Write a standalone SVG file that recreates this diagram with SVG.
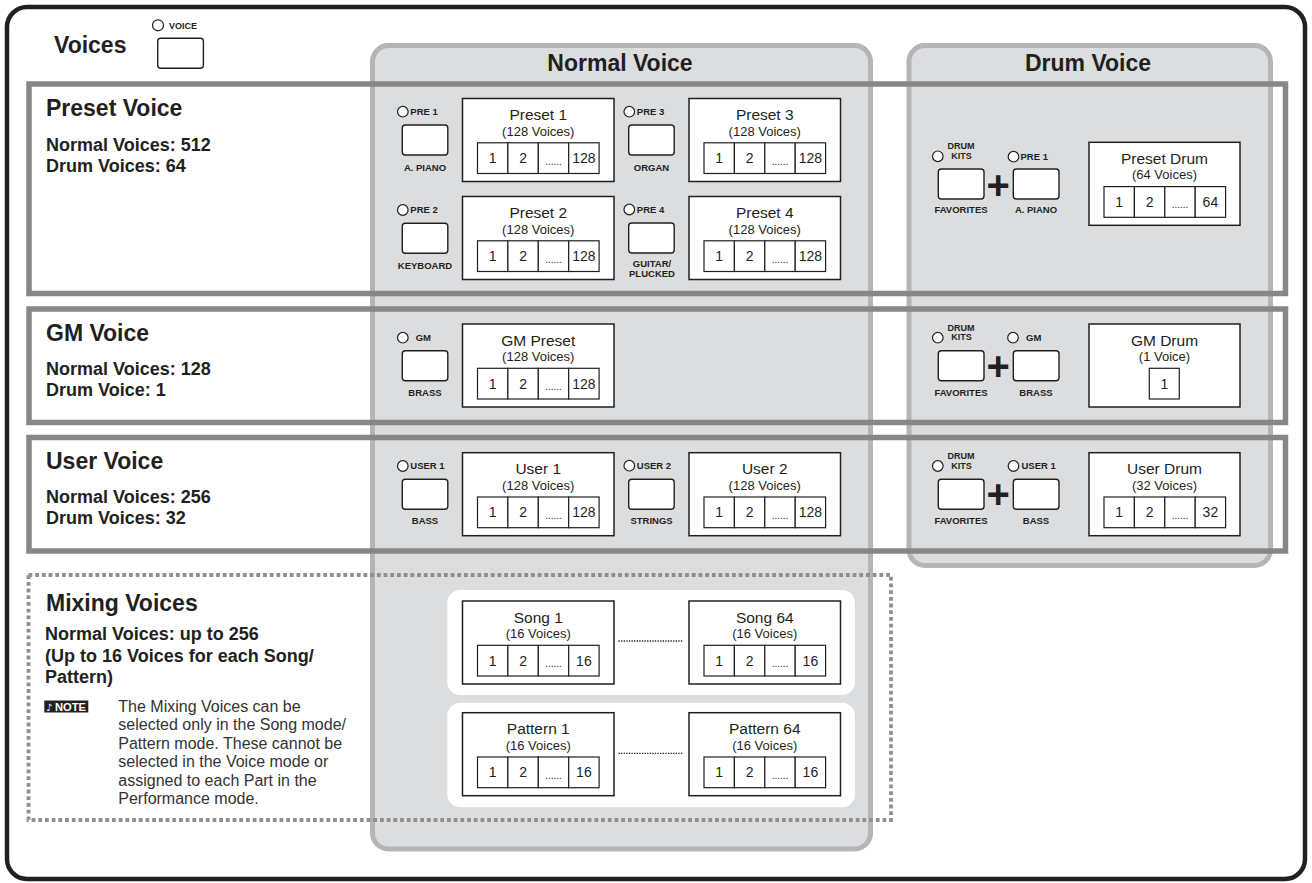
<svg xmlns="http://www.w3.org/2000/svg" width="1312" height="883" viewBox="0 0 1312 883">
<defs>
<style>
text{font-family:"Liberation Sans",Arial,sans-serif;fill:#231f20}
.h{font-size:23px;font-weight:bold}
.s{font-size:18px;font-weight:bold}
.bl{font-size:9.5px;font-weight:bold}
.blc{font-size:9.5px;font-weight:bold;text-anchor:middle}
.bt{font-size:15.5px;text-anchor:middle}
.bs{font-size:13px;text-anchor:middle}
.cn{font-size:14px;text-anchor:middle}
.dt{font-size:10px;text-anchor:middle}
.nt{font-size:16px;fill:#333}
.plus{font-size:40px;font-weight:bold;text-anchor:middle}
.vb{fill:#fff;stroke:#231f20;stroke-width:1.5}
.cl{fill:#fff;stroke:#231f20;stroke-width:1.2}
.btn{fill:#fff;stroke:#231f20;stroke-width:1.4}
.led{fill:#fff;stroke:#231f20;stroke-width:1.2}
.row{fill:none;stroke:#878787;stroke-width:5.5}
.panel{fill:#dcdddf;stroke:#b4b5b7;stroke-width:5}
</style>
</defs>
<rect x="0" y="0" width="1312" height="883" fill="#fff"/>
<rect x="7" y="7" width="1298" height="872" rx="20" fill="#fff" stroke="#231f20" stroke-width="4.5"/>

<g id="panels">
<rect id="normal-panel" class="panel" x="372.5" y="45.5" width="498" height="803.5" rx="16"/>
<rect id="drum-panel" class="panel" x="909" y="45.5" width="361.5" height="520" rx="16"/>
<rect x="447.3" y="590" width="407.7" height="105" rx="13" fill="#fff"/>
<rect x="447.3" y="702.7" width="407.7" height="104.6" rx="13" fill="#fff"/>
</g>

<g id="rows">
<rect id="preset-row" class="row" x="29" y="84" width="1256.5" height="209.5"/>
<rect id="gm-row" class="row" x="29" y="309" width="1256.5" height="113.5"/>
<rect id="user-row" class="row" x="29" y="437.5" width="1256.5" height="113.5"/>
<rect id="mixing-row" x="28.5" y="575" width="862.5" height="245" fill="none" stroke="#8f8f8f" stroke-width="3.8" stroke-dasharray="3.8 2.9"/>
</g>

<g id="headings">
<text class="h" x="54" y="53">Voices</text>
<text class="h" x="620" y="70.7" text-anchor="middle">Normal Voice</text>
<text class="h" x="1088" y="70.7" text-anchor="middle">Drum Voice</text>
<text class="h" x="46" y="116">Preset Voice</text>
<text class="s" x="46" y="151">Normal Voices: 512</text>
<text class="s" x="46" y="172">Drum Voices: 64</text>
<text class="h" x="46" y="340.5">GM Voice</text>
<text class="s" x="46" y="375">Normal Voices: 128</text>
<text class="s" x="46" y="396">Drum Voice: 1</text>
<text class="h" x="46" y="469">User Voice</text>
<text class="s" x="46" y="503">Normal Voices: 256</text>
<text class="s" x="46" y="524">Drum Voices: 32</text>
<text class="h" x="46" y="610.7">Mixing Voices</text>
<text class="s" x="45" y="640">Normal Voices: up to 256</text>
<text class="s" x="45" y="661.5">(Up to 16 Voices for each Song/</text>
<text class="s" x="45" y="682.7">Pattern)</text>
</g>

<g id="note">
<rect x="44.3" y="700.5" width="44" height="12" fill="#231f20"/>
<text x="46" y="710.5" style="font-family:'DejaVu Sans',sans-serif;font-size:10px;fill:#fff">♪</text>
<text x="55" y="711" textLength="31" lengthAdjust="spacingAndGlyphs" style="font-size:11.5px;font-weight:bold;fill:#fff">NOTE</text>
<text class="nt" x="118.3" y="711.7">The Mixing Voices can be</text>
<text class="nt" x="118.3" y="730.1">selected only in the Song mode/</text>
<text class="nt" x="118.3" y="748.6">Pattern mode. These cannot be</text>
<text class="nt" x="118.3" y="767">selected in the Voice mode or</text>
<text class="nt" x="118.3" y="785.5">assigned to each Part in the</text>
<text class="nt" x="118.3" y="804">Performance mode.</text>
</g>

<!-- buttons -->
<g id="btn-voice">
<circle class="led" cx="158" cy="25.3" r="5.5"/>
<text x="169" y="29" style="font-size:9px;font-weight:bold">VOICE</text>
<rect class="btn" x="157.7" y="38.3" width="45.7" height="30" rx="3"/>
</g>
<g id="btn-pre1">
<circle class="led" cx="402.8" cy="111.7" r="5.3"/>
<text class="bl" x="410.3" y="115">PRE 1</text>
<rect class="btn" x="402.3" y="125" width="45.5" height="30" rx="3"/>
<text class="blc" x="425" y="170.7">A. PIANO</text>
</g>
<g id="btn-pre3">
<circle class="led" cx="629.3" cy="111.7" r="5.3"/>
<text class="bl" x="636.8" y="115">PRE 3</text>
<rect class="btn" x="628.7" y="125" width="45.5" height="30" rx="3"/>
<text class="blc" x="651.5" y="170.7">ORGAN</text>
</g>
<g id="btn-pre2">
<circle class="led" cx="402.8" cy="210" r="5.3"/>
<text class="bl" x="410.3" y="213.3">PRE 2</text>
<rect class="btn" x="402.3" y="223.3" width="45.5" height="30" rx="3"/>
<text class="blc" x="425" y="268.5">KEYBOARD</text>
</g>
<g id="btn-pre4">
<circle class="led" cx="629.3" cy="209.5" r="5.3"/>
<text class="bl" x="636.8" y="212.8">PRE 4</text>
<rect class="btn" x="628.7" y="223" width="45.5" height="30" rx="3"/>
<text class="blc" x="652" y="267.3">GUITAR/</text>
<text class="blc" x="652" y="276.7">PLUCKED</text>
</g>
<g id="btn-gm">
<circle class="led" cx="402.8" cy="337.7" r="5.3"/>
<text class="bl" x="415.7" y="340.7">GM</text>
<rect class="btn" x="402.3" y="350.7" width="45.5" height="30" rx="3"/>
<text class="blc" x="425" y="395.7">BRASS</text>
</g>
<g id="btn-user1">
<circle class="led" cx="402.8" cy="466" r="5.3"/>
<text class="bl" x="410.3" y="469.3">USER 1</text>
<rect class="btn" x="402.3" y="479.3" width="45.5" height="30" rx="3"/>
<text class="blc" x="425" y="524">BASS</text>
</g>
<g id="btn-user2">
<circle class="led" cx="629.3" cy="465.7" r="5.3"/>
<text class="bl" x="636.8" y="469">USER 2</text>
<rect class="btn" x="628.7" y="479.3" width="45.5" height="30" rx="3"/>
<text class="blc" x="651.5" y="524">STRINGS</text>
</g>

<!-- drum buttons -->
<g id="drum-btn-preset">
<circle class="led" cx="937.8" cy="156.3" r="5.3"/>
<text class="blc" x="961" y="149.3" style="font-size:9px">DRUM</text>
<text class="blc" x="961.5" y="158.8" style="font-size:9px">KITS</text>
<rect class="btn" x="938.3" y="169" width="45.7" height="30" rx="3"/>
<text class="blc" x="961" y="213.3">FAVORITES</text>
<text class="plus" x="998.3" y="198.8">+</text>
<circle class="led" cx="1013.5" cy="156.7" r="5.3"/>
<text class="bl" x="1020.5" y="160">PRE 1</text>
<rect class="btn" x="1013.3" y="169" width="45.7" height="30" rx="3"/>
<text class="blc" x="1036" y="213.3">A. PIANO</text>
</g>
<g id="drum-btn-gm">
<circle class="led" cx="937.8" cy="337.7" r="5.3"/>
<text class="blc" x="961" y="330.7" style="font-size:9px">DRUM</text>
<text class="blc" x="961.5" y="340.2" style="font-size:9px">KITS</text>
<rect class="btn" x="938.3" y="350.7" width="45.7" height="30" rx="3"/>
<text class="blc" x="961" y="395.7">FAVORITES</text>
<text class="plus" x="998.3" y="379.5">+</text>
<circle class="led" cx="1013" cy="337.7" r="5.3"/>
<text class="bl" x="1026" y="340.7">GM</text>
<rect class="btn" x="1013.3" y="350.7" width="45.7" height="30" rx="3"/>
<text class="blc" x="1036" y="395.7">BRASS</text>
</g>
<g id="drum-btn-user">
<circle class="led" cx="937.8" cy="466" r="5.3"/>
<text class="blc" x="961" y="459.3" style="font-size:9px">DRUM</text>
<text class="blc" x="961.5" y="468.8" style="font-size:9px">KITS</text>
<rect class="btn" x="938.3" y="479.3" width="45.7" height="30" rx="3"/>
<text class="blc" x="961" y="524">FAVORITES</text>
<text class="plus" x="998.3" y="508.1">+</text>
<circle class="led" cx="1013.5" cy="466" r="5.3"/>
<text class="bl" x="1021.5" y="469.3">USER 1</text>
<rect class="btn" x="1013.3" y="479.3" width="45.7" height="30" rx="3"/>
<text class="blc" x="1036" y="524">BASS</text>
</g>

<!-- voice boxes -->
<g id="box-preset1" transform="translate(462.5,98.5)">
<rect class="vb" width="151.5" height="83"/>
<text class="bt" x="75.75" y="21.5">Preset 1</text><text class="bs" x="75.75" y="37">(128 Voices)</text>
<rect class="cl" x="15" y="44.3" width="30.4" height="30.7"/><rect class="cl" x="45.4" y="44.3" width="30.4" height="30.7"/><rect class="cl" x="75.8" y="44.3" width="30.4" height="30.7"/><rect class="cl" x="106.2" y="44.3" width="30.4" height="30.7"/>
<text class="cn" x="30.2" y="64.8">1</text><text class="cn" x="60.6" y="64.8">2</text><text class="dt" x="91" y="66">......</text><text class="cn" x="121.4" y="64.8">128</text>
</g>
<g id="box-preset3" transform="translate(689,98.5)">
<rect class="vb" width="151.5" height="83"/>
<text class="bt" x="75.75" y="21.5">Preset 3</text><text class="bs" x="75.75" y="37">(128 Voices)</text>
<rect class="cl" x="15" y="44.3" width="30.4" height="30.7"/><rect class="cl" x="45.4" y="44.3" width="30.4" height="30.7"/><rect class="cl" x="75.8" y="44.3" width="30.4" height="30.7"/><rect class="cl" x="106.2" y="44.3" width="30.4" height="30.7"/>
<text class="cn" x="30.2" y="64.8">1</text><text class="cn" x="60.6" y="64.8">2</text><text class="dt" x="91" y="66">......</text><text class="cn" x="121.4" y="64.8">128</text>
</g>
<g id="box-preset2" transform="translate(462.5,196.5)">
<rect class="vb" width="151.5" height="83"/>
<text class="bt" x="75.75" y="21.5">Preset 2</text><text class="bs" x="75.75" y="37">(128 Voices)</text>
<rect class="cl" x="15" y="44.3" width="30.4" height="30.7"/><rect class="cl" x="45.4" y="44.3" width="30.4" height="30.7"/><rect class="cl" x="75.8" y="44.3" width="30.4" height="30.7"/><rect class="cl" x="106.2" y="44.3" width="30.4" height="30.7"/>
<text class="cn" x="30.2" y="64.8">1</text><text class="cn" x="60.6" y="64.8">2</text><text class="dt" x="91" y="66">......</text><text class="cn" x="121.4" y="64.8">128</text>
</g>
<g id="box-preset4" transform="translate(689,196.5)">
<rect class="vb" width="151.5" height="83"/>
<text class="bt" x="75.75" y="21.5">Preset 4</text><text class="bs" x="75.75" y="37">(128 Voices)</text>
<rect class="cl" x="15" y="44.3" width="30.4" height="30.7"/><rect class="cl" x="45.4" y="44.3" width="30.4" height="30.7"/><rect class="cl" x="75.8" y="44.3" width="30.4" height="30.7"/><rect class="cl" x="106.2" y="44.3" width="30.4" height="30.7"/>
<text class="cn" x="30.2" y="64.8">1</text><text class="cn" x="60.6" y="64.8">2</text><text class="dt" x="91" y="66">......</text><text class="cn" x="121.4" y="64.8">128</text>
</g>
<g id="box-preset-drum" transform="translate(1089,142.3)">
<rect class="vb" width="151" height="83"/>
<text class="bt" x="75.5" y="21.5">Preset Drum</text><text class="bs" x="75.5" y="37">(64 Voices)</text>
<rect class="cl" x="15" y="44.3" width="30.4" height="30.7"/><rect class="cl" x="45.4" y="44.3" width="30.4" height="30.7"/><rect class="cl" x="75.8" y="44.3" width="30.4" height="30.7"/><rect class="cl" x="106.2" y="44.3" width="30.4" height="30.7"/>
<text class="cn" x="30.2" y="64.8">1</text><text class="cn" x="60.6" y="64.8">2</text><text class="dt" x="91" y="66">......</text><text class="cn" x="121.4" y="64.8">64</text>
</g>
<g id="box-gm-preset" transform="translate(462.5,324)">
<rect class="vb" width="151.5" height="83"/>
<text class="bt" x="75.75" y="21.5">GM Preset</text><text class="bs" x="75.75" y="37">(128 Voices)</text>
<rect class="cl" x="15" y="44.3" width="30.4" height="30.7"/><rect class="cl" x="45.4" y="44.3" width="30.4" height="30.7"/><rect class="cl" x="75.8" y="44.3" width="30.4" height="30.7"/><rect class="cl" x="106.2" y="44.3" width="30.4" height="30.7"/>
<text class="cn" x="30.2" y="64.8">1</text><text class="cn" x="60.6" y="64.8">2</text><text class="dt" x="91" y="66">......</text><text class="cn" x="121.4" y="64.8">128</text>
</g>
<g id="box-gm-drum" transform="translate(1089,324)">
<rect class="vb" width="151" height="83"/>
<text class="bt" x="75.5" y="21.5">GM Drum</text><text class="bs" x="75.5" y="37">(1 Voice)</text>
<rect class="cl" x="60.3" y="44.3" width="30" height="30.7"/>
<text class="cn" x="75.3" y="64.8">1</text>
</g>
<g id="box-user1" transform="translate(462.5,452.7)">
<rect class="vb" width="151.5" height="83"/>
<text class="bt" x="75.75" y="21.5">User 1</text><text class="bs" x="75.75" y="37">(128 Voices)</text>
<rect class="cl" x="15" y="44.3" width="30.4" height="30.7"/><rect class="cl" x="45.4" y="44.3" width="30.4" height="30.7"/><rect class="cl" x="75.8" y="44.3" width="30.4" height="30.7"/><rect class="cl" x="106.2" y="44.3" width="30.4" height="30.7"/>
<text class="cn" x="30.2" y="64.8">1</text><text class="cn" x="60.6" y="64.8">2</text><text class="dt" x="91" y="66">......</text><text class="cn" x="121.4" y="64.8">128</text>
</g>
<g id="box-user2" transform="translate(689,452.7)">
<rect class="vb" width="151.5" height="83"/>
<text class="bt" x="75.75" y="21.5">User 2</text><text class="bs" x="75.75" y="37">(128 Voices)</text>
<rect class="cl" x="15" y="44.3" width="30.4" height="30.7"/><rect class="cl" x="45.4" y="44.3" width="30.4" height="30.7"/><rect class="cl" x="75.8" y="44.3" width="30.4" height="30.7"/><rect class="cl" x="106.2" y="44.3" width="30.4" height="30.7"/>
<text class="cn" x="30.2" y="64.8">1</text><text class="cn" x="60.6" y="64.8">2</text><text class="dt" x="91" y="66">......</text><text class="cn" x="121.4" y="64.8">128</text>
</g>
<g id="box-user-drum" transform="translate(1089,452.7)">
<rect class="vb" width="151" height="83"/>
<text class="bt" x="75.5" y="21.5">User Drum</text><text class="bs" x="75.5" y="37">(32 Voices)</text>
<rect class="cl" x="15" y="44.3" width="30.4" height="30.7"/><rect class="cl" x="45.4" y="44.3" width="30.4" height="30.7"/><rect class="cl" x="75.8" y="44.3" width="30.4" height="30.7"/><rect class="cl" x="106.2" y="44.3" width="30.4" height="30.7"/>
<text class="cn" x="30.2" y="64.8">1</text><text class="cn" x="60.6" y="64.8">2</text><text class="dt" x="91" y="66">......</text><text class="cn" x="121.4" y="64.8">32</text>
</g>
<g id="box-song1" transform="translate(462.5,601)">
<rect class="vb" width="151.5" height="83"/>
<text class="bt" x="75.75" y="21.5">Song 1</text><text class="bs" x="75.75" y="37">(16 Voices)</text>
<rect class="cl" x="15" y="44.3" width="30.4" height="30.7"/><rect class="cl" x="45.4" y="44.3" width="30.4" height="30.7"/><rect class="cl" x="75.8" y="44.3" width="30.4" height="30.7"/><rect class="cl" x="106.2" y="44.3" width="30.4" height="30.7"/>
<text class="cn" x="30.2" y="64.8">1</text><text class="cn" x="60.6" y="64.8">2</text><text class="dt" x="91" y="66">......</text><text class="cn" x="121.4" y="64.8">16</text>
</g>
<g id="box-song64" transform="translate(689,601)">
<rect class="vb" width="151.5" height="83"/>
<text class="bt" x="75.75" y="21.5">Song 64</text><text class="bs" x="75.75" y="37">(16 Voices)</text>
<rect class="cl" x="15" y="44.3" width="30.4" height="30.7"/><rect class="cl" x="45.4" y="44.3" width="30.4" height="30.7"/><rect class="cl" x="75.8" y="44.3" width="30.4" height="30.7"/><rect class="cl" x="106.2" y="44.3" width="30.4" height="30.7"/>
<text class="cn" x="30.2" y="64.8">1</text><text class="cn" x="60.6" y="64.8">2</text><text class="dt" x="91" y="66">......</text><text class="cn" x="121.4" y="64.8">16</text>
</g>
<g id="box-pattern1" transform="translate(462.5,712.7)">
<rect class="vb" width="151.5" height="83"/>
<text class="bt" x="75.75" y="21.5">Pattern 1</text><text class="bs" x="75.75" y="37">(16 Voices)</text>
<rect class="cl" x="15" y="44.3" width="30.4" height="30.7"/><rect class="cl" x="45.4" y="44.3" width="30.4" height="30.7"/><rect class="cl" x="75.8" y="44.3" width="30.4" height="30.7"/><rect class="cl" x="106.2" y="44.3" width="30.4" height="30.7"/>
<text class="cn" x="30.2" y="64.8">1</text><text class="cn" x="60.6" y="64.8">2</text><text class="dt" x="91" y="66">......</text><text class="cn" x="121.4" y="64.8">16</text>
</g>
<g id="box-pattern64" transform="translate(689,712.7)">
<rect class="vb" width="151.5" height="83"/>
<text class="bt" x="75.75" y="21.5">Pattern 64</text><text class="bs" x="75.75" y="37">(16 Voices)</text>
<rect class="cl" x="15" y="44.3" width="30.4" height="30.7"/><rect class="cl" x="45.4" y="44.3" width="30.4" height="30.7"/><rect class="cl" x="75.8" y="44.3" width="30.4" height="30.7"/><rect class="cl" x="106.2" y="44.3" width="30.4" height="30.7"/>
<text class="cn" x="30.2" y="64.8">1</text><text class="cn" x="60.6" y="64.8">2</text><text class="dt" x="91" y="66">......</text><text class="cn" x="121.4" y="64.8">16</text>
</g>

<g id="connectors" fill="none" stroke="#231f20" stroke-width="1.3" stroke-dasharray="1.3 1.3">
<line x1="618.5" y1="641" x2="683.5" y2="641"/>
<line x1="618.5" y1="753.3" x2="683.5" y2="753.3"/>
</g>
</svg>
